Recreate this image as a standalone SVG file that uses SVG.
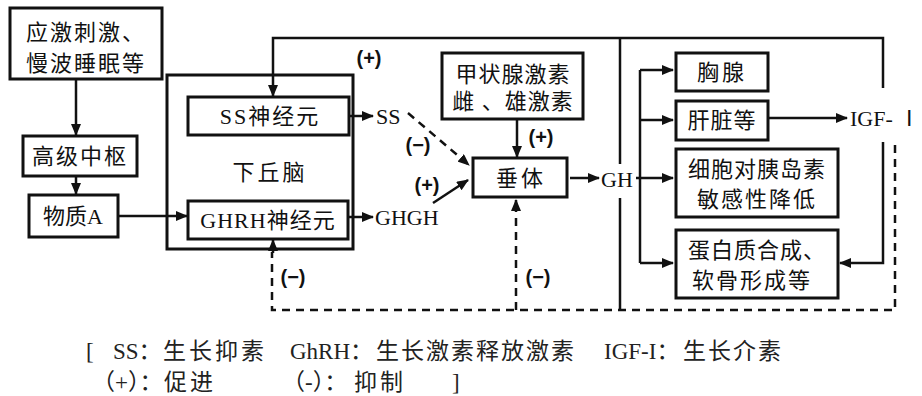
<svg xmlns="http://www.w3.org/2000/svg" width="922" height="396" viewBox="0 0 922 396">
<style>
.box{fill:#fff;stroke:#111;stroke-width:3}
.t{font-family:"Liberation Serif","Noto Sans CJK SC",serif;font-size:22px;fill:#111;text-anchor:middle}
.ts{font-family:"Liberation Serif","Noto Sans CJK SC",serif;font-size:22px;fill:#111}
.lb{font-family:"Liberation Sans","DejaVu Sans",sans-serif;font-size:20px;font-weight:bold;fill:#111;text-anchor:middle}
.ln{fill:none;stroke:#111;stroke-width:2.5}
.dl{fill:none;stroke:#111;stroke-width:2.5;stroke-dasharray:8 6}
.lg{font-family:"Liberation Serif","Noto Sans CJK SC",serif;font-size:23px;fill:#222}
</style>
<defs>
<marker id="ah" markerWidth="12" markerHeight="10" refX="11" refY="5" orient="auto" markerUnits="userSpaceOnUse">
<path d="M0,0 L12,5 L0,10 Z" fill="#111"/>
</marker>
</defs>

<g id="connectors">
<line class="ln" x1="76" y1="79" x2="76" y2="135" marker-end="url(#ah)"/>
<line class="ln" x1="76" y1="176" x2="76" y2="194" marker-end="url(#ah)"/>
<line class="ln" x1="118" y1="216" x2="187" y2="216" marker-end="url(#ah)"/>
<line class="ln" x1="349" y1="116" x2="373" y2="116" marker-end="url(#ah)"/>
<line class="ln" x1="348" y1="217" x2="373" y2="217" marker-end="url(#ah)"/>
<path class="ln" d="M883 88 V38 H273 V96" marker-end="url(#ah)"/>
<line class="ln" x1="620" y1="38" x2="620" y2="164"/>
<line class="ln" x1="620" y1="198" x2="620" y2="310"/>
<line class="ln" x1="570" y1="178" x2="599" y2="178" marker-end="url(#ah)"/>
<line class="ln" x1="640" y1="70" x2="640" y2="263"/>
<line class="ln" x1="640" y1="70" x2="673" y2="70" marker-end="url(#ah)"/>
<line class="ln" x1="640" y1="120" x2="673" y2="120" marker-end="url(#ah)"/>
<line class="ln" x1="636" y1="178" x2="673" y2="178" marker-end="url(#ah)"/>
<line class="ln" x1="640" y1="263" x2="673" y2="263" marker-end="url(#ah)"/>
<line class="ln" x1="768" y1="118" x2="847" y2="118" marker-end="url(#ah)"/>
<path class="ln" d="M883 142 V263 H840" marker-end="url(#ah)"/>
<path class="dl" d="M895 145 V310 H272 V252"/>
<line class="ln" x1="273" y1="253" x2="273" y2="240" marker-end="url(#ah)"/>
<path class="dl" d="M516 310 V212"/>
<line class="ln" x1="516" y1="212" x2="516" y2="200" marker-end="url(#ah)"/>
<path class="dl" d="M408 113 L469 165" marker-end="url(#ah)"/>
<line class="ln" x1="433" y1="203" x2="468" y2="180" marker-end="url(#ah)"/>
<line class="ln" x1="517" y1="119" x2="517" y2="157" marker-end="url(#ah)"/>
</g>

<g id="labels">
<text class="lb" x="369" y="65">(+)</text>
<text class="lb" x="418" y="152">(−)</text>
<text class="lb" x="427" y="192">(+)</text>
<text class="lb" x="541" y="144">(+)</text>
<text class="lb" x="293" y="284">(−)</text>
<text class="lb" x="538" y="284">(−)</text>
<text class="ts" x="376" y="124">SS</text>
<text class="ts" x="375" y="225">GHGH</text>
<text class="ts" x="601" y="187">GH</text>
<text class="ts" x="850" y="126" font-size="21">IGF- Ⅰ</text>
</g>

<g id="n-stress">
<rect class="box" x="10" y="8" width="152" height="71"/>
<text class="t" x="86" y="40" letter-spacing="2">应激刺激、</text>
<text class="t" x="86" y="71" letter-spacing="2">慢波睡眠等</text>
</g>
<g id="n-center">
<rect class="box" x="23" y="136" width="114" height="40"/>
<text class="t" x="80" y="164" letter-spacing="2">高级中枢</text>
</g>
<g id="n-A">
<rect class="box" x="29" y="195" width="89" height="42"/>
<text class="t" x="73" y="224">物质A</text>
</g>
<g id="n-hypothalamus">
<rect x="167" y="75" width="186" height="174" fill="none" stroke="#111" stroke-width="3"/>
<text class="t" x="270" y="180" letter-spacing="3">下丘脑</text>
</g>
<g id="n-ss">
<rect class="box" x="188" y="97" width="161" height="38"/>
<text class="t" x="270" y="124" letter-spacing="2">SS神经元</text>
</g>
<g id="n-ghrh">
<rect class="box" x="188" y="201" width="160" height="38"/>
<text class="t" x="268" y="228" letter-spacing="1">GHRH神经元</text>
</g>
<g id="n-thyroid">
<rect class="box" x="442" y="53" width="141" height="66"/>
<text class="t" x="513" y="82" letter-spacing="1">甲状腺激素</text>
<text class="t" x="513" y="109" letter-spacing="1">雌 、雄激素</text>
</g>
<g id="n-pituitary">
<rect class="box" x="473" y="158" width="94" height="39"/>
<text class="t" x="521" y="186" letter-spacing="3">垂体</text>
</g>
<g id="n-thymus">
<rect class="box" x="676" y="53" width="92" height="38"/>
<text class="t" x="722" y="80" letter-spacing="3">胸腺</text>
</g>
<g id="n-liver">
<rect class="box" x="676" y="101" width="92" height="39"/>
<text class="t" x="722" y="128" letter-spacing="1">肝脏等</text>
</g>
<g id="n-insulin">
<rect class="box" x="676" y="149" width="162" height="68"/>
<text class="t" x="757" y="177" letter-spacing="1">细胞对胰岛素</text>
<text class="t" x="757" y="207" letter-spacing="2">敏感性降低</text>
</g>
<g id="n-protein">
<rect class="box" x="676" y="230" width="162" height="68"/>
<text class="t" x="757" y="258" letter-spacing="1">蛋白质合成、</text>
<text class="t" x="752" y="288" letter-spacing="2">软骨形成等</text>
</g>

<g id="legend">
<text class="lg" y="359"><tspan x="86">[</tspan><tspan x="113">SS：</tspan><tspan x="163" letter-spacing="3">生长抑素</tspan><tspan x="290">GhRH：</tspan><tspan x="376" letter-spacing="2">生长激素释放激素</tspan><tspan x="604">IGF-I：</tspan><tspan x="683" letter-spacing="2">生长介素</tspan></text>
<text class="lg" y="390"><tspan x="92">（+）：</tspan><tspan x="164" letter-spacing="3">促进</tspan><tspan x="282">（-）：</tspan><tspan x="354" letter-spacing="3">抑制</tspan><tspan x="452">]</tspan></text>
</g>
</svg>
